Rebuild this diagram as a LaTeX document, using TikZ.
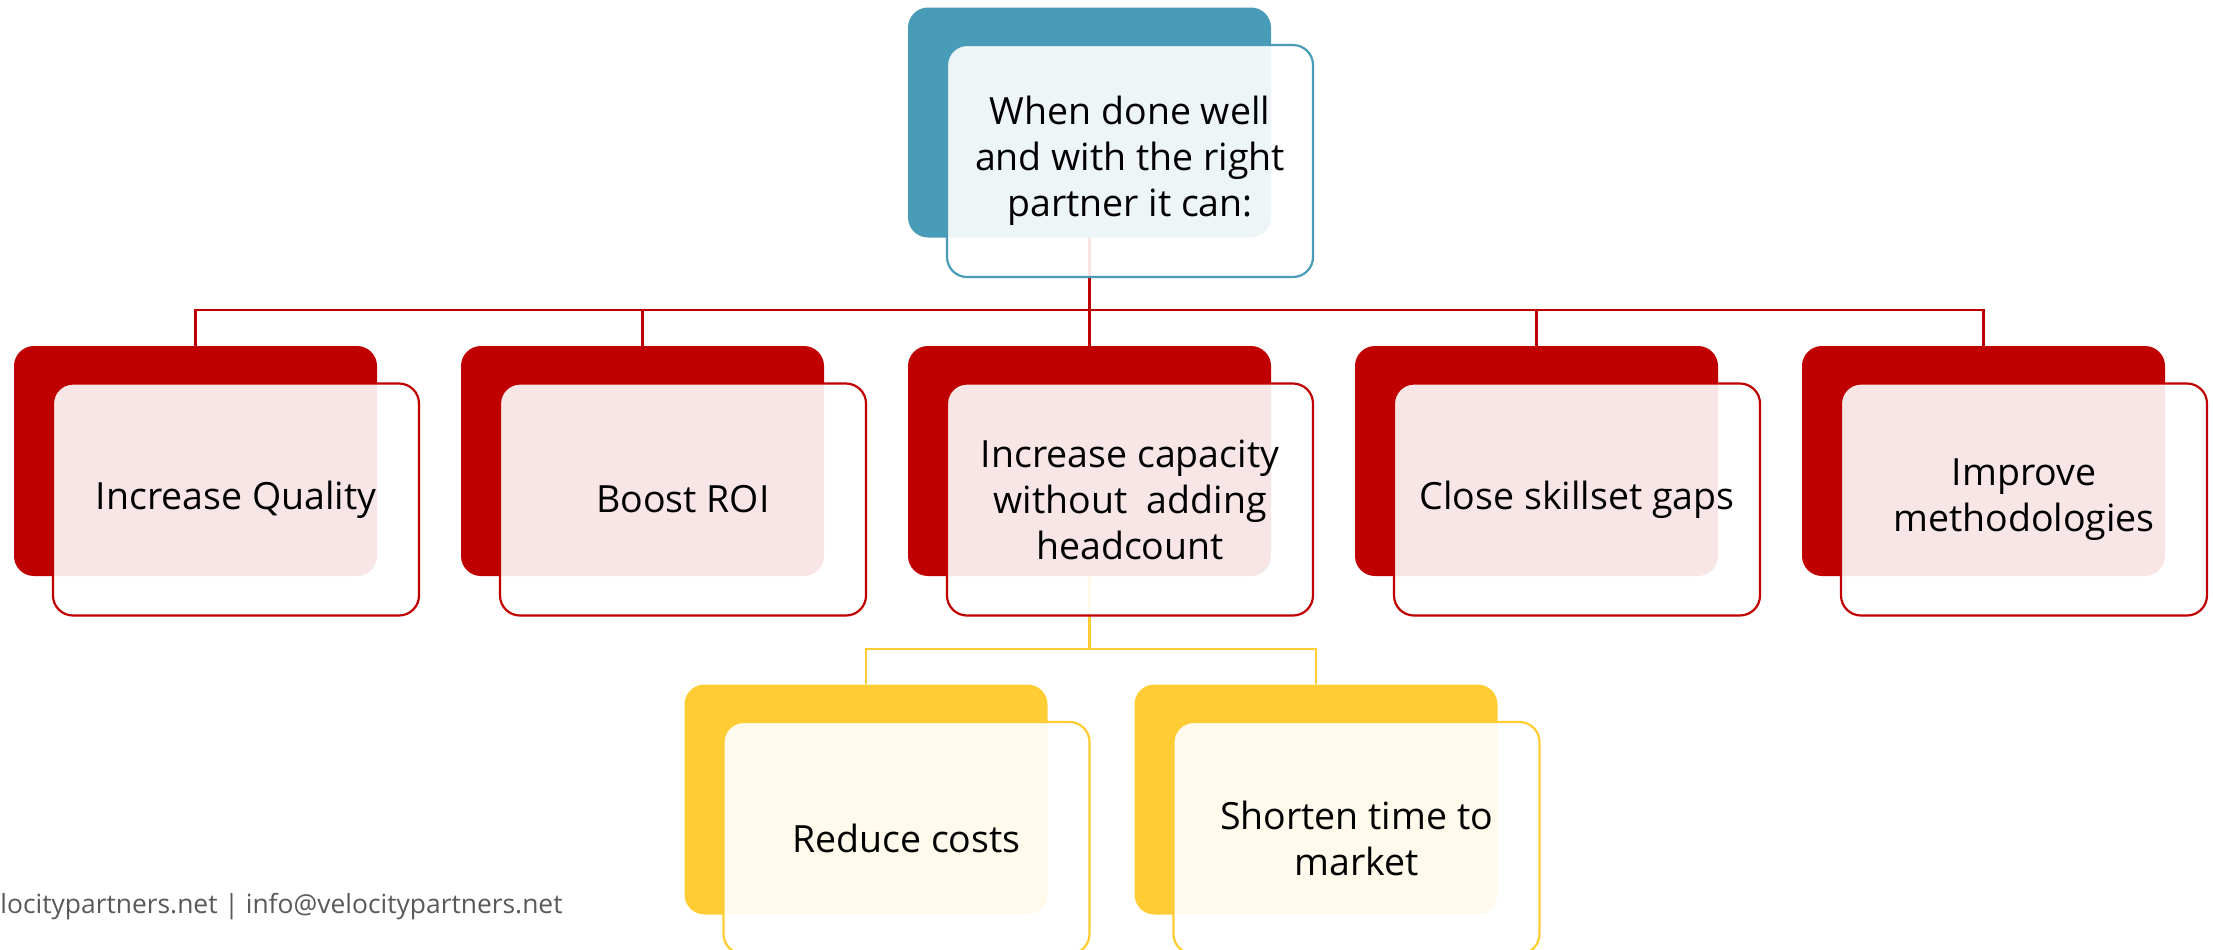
\documentclass[tikz,border=0pt]{standalone}
\usepackage{fontspec}
\setmainfont{Open Sans}
\definecolor{vpblue}{RGB}{72,156,183}
\definecolor{vpred}{RGB}{192,0,0}
\definecolor{vpyellow}{RGB}{255,204,51}
\definecolor{vpgray}{RGB}{89,89,89}

\begin{document}
\begin{tikzpicture}[x=0.5pt,y=-0.5pt,
backbox/.style={rectangle, rounded corners=10pt, fill=#1, minimum width=181.5pt, minimum height=115pt, inner sep=0pt},
frontbox/.style={rectangle, rounded corners=10pt, draw=#1, line width=1.1pt, fill=white, fill opacity=0.9, text opacity=1, minimum width=183pt, minimum height=116pt, xshift=20.25pt, yshift=-19.25pt, align=center, text=black, font=\fontsize{18.75}{23}\selectfont},
link/.style={draw=#1, line width=1.2pt}]
\useasboundingbox (0,0) rectangle (2213,949);
\clip (0,0) rectangle (2213,949);

\node[backbox=vpblue] (topback) at (1089.5,122.5) {};
\foreach \x [count=\i] in {195.5,642.5,1089.5,1536.5,1983.5}{
\node[backbox=vpred] (r\i) at (\x,461) {};
}
\node[backbox=vpyellow] (y1) at (866,799.5) {};
\node[backbox=vpyellow] (y2) at (1316,799.5) {};

\coordinate (redbus) at (1089.5,310);
\coordinate (yellowbus) at (1089.5,649);
\foreach \i in {1,...,5}{
\draw[link=vpred] (topback.south) -- (redbus) -| (r\i.north);
}
\foreach \i in {1,2}{
\draw[link=vpyellow] (r3.south) -- (yellowbus) -| (y\i.north);
}

\node[frontbox=vpblue] (topfront) at (topback) {When done well\\and with the right\\partner it can:};
\node[frontbox=vpred] (f1) at (r1) {Increase Quality};
\node[frontbox=vpred] (f2) at (r2) {Boost ROI};
\node[frontbox=vpred] (f3) at (r3) {Increase capacity\\without~ adding\\headcount};
\node[frontbox=vpred] (f4) at (r4) {Close skillset gaps};
\node[frontbox=vpred] (f5) at (r5) {Improve\\methodologies};
\node[frontbox=vpyellow] (g1) at (y1) {Reduce costs};
\node[frontbox=vpyellow] (g2) at (y2) {Shorten time to\\market};

\node[anchor=base east, inner sep=0pt, text=vpgray, font=\fontsize{13.2}{16}\selectfont] (footer) at (563,913) {velocitypartners.net | info@velocitypartners.net};
\end{tikzpicture}
\end{document}
